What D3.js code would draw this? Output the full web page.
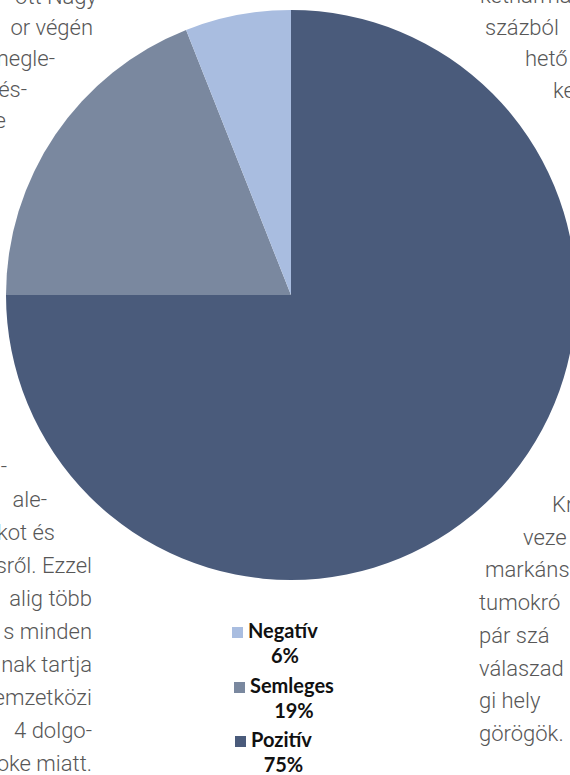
<!DOCTYPE html>
<html>
<head>
<meta charset="utf-8">
<script src="https://cdn.jsdelivr.net/npm/d3@7"></script>
<style>
  html, body { margin: 0; padding: 0; background: #fff; }
  #chart { width: 570px; height: 775px; overflow: hidden; }
</style>
</head>
<body>
<div id="chart"></div>
<script>
// Chart data
const categories = ["Pozitív", "Semleges", "Negatív"];
const values = [75, 19, 6];
const colors = ["#4a5b7b", "#7a889f", "#a9bde0"];
const legendOrder = ["Negatív", "Semleges", "Pozitív"];

// Surrounding article text fragments (left column ends, right column starts)
const leftTopLines = ["ott Nagy", "or végén", "megle-", "és-", "e"];
const leftBottomLines = ["-", "ale-", "kot és", "sről. Ezzel", "alig több",
    "s minden", "nak tartja", "emzetközi", "4 dolgo-", "oke miatt."];
const rightTopLines = ["kétharma", "százból", "hető", "ke"];
const rightBottomLines = ["Kr", "veze", "markáns", "tumokró", "pár szá",
    "válaszad", "gi hely", "görögök."];

const width = 570, height = 775;
const cx = 291, cy = 295, radius = 285;

const svg = d3.select("#chart")
    .append("svg")
    .attr("width", width)
    .attr("height", height);

// Background article text
const textFont = "Roboto, 'Open Sans', sans-serif";
const bg = svg.append("g")
    .style("font-family", textFont)
    .style("font-weight", 300)
    .style("font-size", "22px")
    .style("fill", "#575757");

// line ends of the left column (the text wraps round the pie)
const ltEnd = [97, 93, 55, 27, 6];
bg.selectAll(".lt").data(leftTopLines).enter().append("text")
    .attr("x", (d, i) => ltEnd[i]).attr("y", (d, i) => 4 + i * 31)
    .attr("text-anchor", "end").text(d => d);

const lbEnd = [7, 47, 55, 92, 92, 92, 92, 92, 92, 92];
bg.selectAll(".lb").data(leftBottomLines).enter().append("text")
    .attr("x", (d, i) => lbEnd[i])
    .attr("y", (d, i) => 474 + i * 33)
    .attr("text-anchor", "end").text(d => d);

const rtX = [480, 485, 525, 553];
bg.selectAll(".rt").data(rightTopLines).enter().append("text")
    .attr("x", (d, i) => rtX[i]).attr("y", (d, i) => 3 + i * 31.5)
    .text(d => d);

const rbX = [552, 523, 485, 479, 479, 479, 479, 479];
bg.selectAll(".rb").data(rightBottomLines).enter().append("text")
    .attr("x", (d, i) => rbX[i]).attr("y", (d, i) => 512 + i * 32.7)
    .text(d => d);

// Pie
const pie = d3.pie().sort(null).value(d => d.value);
const arc = d3.arc().innerRadius(0).outerRadius(radius);
const data = categories.map((c, i) => ({ name: c, value: values[i], color: colors[i] }));

svg.append("g")
    .attr("transform", `translate(${cx},${cy})`)
    .selectAll("path")
    .data(pie(data))
    .enter()
    .append("path")
    .attr("d", arc)
    .attr("fill", d => d.data.color);

// Legend
const color = d3.scaleOrdinal().domain(categories).range(colors);
const value = d3.scaleOrdinal().domain(categories).range(values);
const labelX = [248, 250, 251];
const labelY = [638, 693, 747];

const legend = svg.append("g")
    .style("font-family", "Lato, 'Open Sans', sans-serif")
    .style("font-weight", 700)
    .style("font-size", "20px")
    .style("fill", "#111");

legendOrder.forEach((name, i) => {
    const g = legend.append("g");
    g.append("rect")
        .attr("x", labelX[i] - 16).attr("y", labelY[i] - 11)
        .attr("width", 11).attr("height", 11)
        .attr("fill", color(name));
    const t = g.append("text")
        .attr("x", labelX[i]).attr("y", labelY[i])
        .text(name);
    const w = t.node().getComputedTextLength();
    g.append("text")
        .attr("x", labelX[i] + w / 2 + 2).attr("y", labelY[i] + 25)
        .attr("text-anchor", "middle")
        .text(value(name) + "%");
});
</script>
</body>
</html>
